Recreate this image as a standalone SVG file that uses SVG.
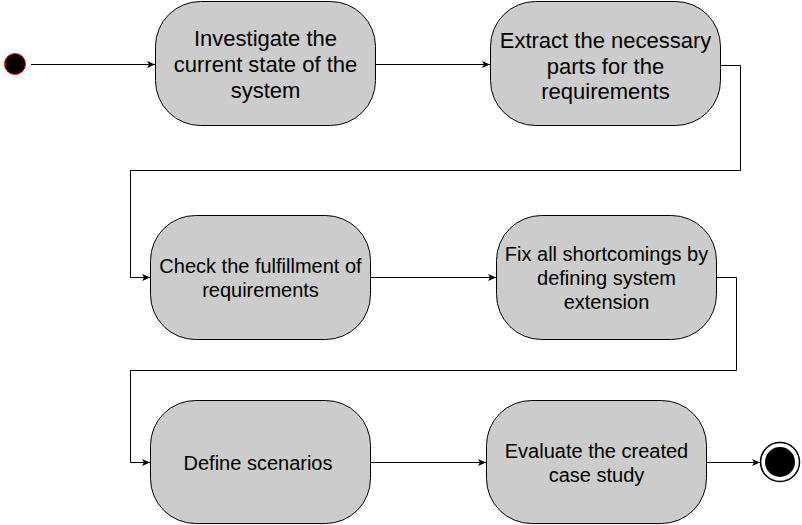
<svg xmlns="http://www.w3.org/2000/svg" width="802" height="525" viewBox="0 0 802 525">
<defs>
<style>
.node rect{fill:#cccccc;stroke:#000000;stroke-width:1}
.node text{font-family:"Liberation Sans",Arial,sans-serif;font-size:20px;fill:#000000;text-anchor:middle}
.node text.big{font-size:22px}
.edge{fill:none;stroke:#000000;stroke-width:1;marker-end:url(#arr)}
</style>
<marker id="arr" markerWidth="10" markerHeight="10" refX="9" refY="5" orient="auto" markerUnits="userSpaceOnUse">
<path d="M1,1.5 L9,5 L1,8.5 L3,5 Z" fill="#000000"/>
</marker>
</defs>
<rect width="802" height="525" fill="#ffffff"/>
<g id="start"><circle cx="15" cy="64" r="10.5" fill="#000000" stroke="#ff0000" stroke-width="1"/></g>
<g id="n1" class="node"><rect x="155.5" y="1.5" width="220" height="124" rx="45" ry="45"/>
<text class="big" x="265.5" y="46">Investigate the</text><text class="big" x="265.5" y="72">current state of the</text><text class="big" x="265.5" y="98">system</text></g>
<g id="n2" class="node"><rect x="490.5" y="1.5" width="230" height="124" rx="45" ry="45"/>
<text class="big" x="605.5" y="48">Extract the necessary</text><text class="big" x="605.5" y="73.5">parts for the</text><text class="big" x="605.5" y="99">requirements</text></g>
<g id="n3" class="node"><rect x="150.5" y="215.5" width="220" height="124" rx="45" ry="45"/>
<text x="260.5" y="273">Check the fulfillment of</text><text x="260.5" y="297">requirements</text></g>
<g id="n4" class="node"><rect x="496.5" y="215.5" width="220" height="124" rx="45" ry="45"/>
<text x="606.5" y="261">Fix all shortcomings by</text><text x="606.5" y="285">defining system</text><text x="606.5" y="309">extension</text></g>
<g id="n5" class="node"><rect x="150.5" y="400.5" width="220" height="123" rx="45" ry="45"/>
<text x="258" y="470">Define scenarios</text></g>
<g id="n6" class="node"><rect x="486.5" y="400.5" width="220" height="123" rx="45" ry="45"/>
<text x="596.5" y="458">Evaluate the created</text><text x="596.5" y="482">case study</text></g>
<g id="end"><circle cx="780" cy="462" r="19.5" fill="#ffffff" stroke="#000000" stroke-width="1.5"/><circle cx="780" cy="462" r="15" fill="#000000"/></g>
<g id="connectors">
<path class="edge" d="M31,64.5 H155"/>
<path class="edge" d="M375.5,64.5 H490"/>
<path class="edge" d="M720.5,65.5 H740.5 V170.5 H130.5 V277.5 H150"/>
<path class="edge" d="M370.5,277.5 H496"/>
<path class="edge" d="M716.5,277.5 H736.5 V370.5 H130.5 V462.5 H150"/>
<path class="edge" d="M370.5,462.5 H486"/>
<path class="edge" d="M706.5,462.5 H760"/>
</g>
</svg>
